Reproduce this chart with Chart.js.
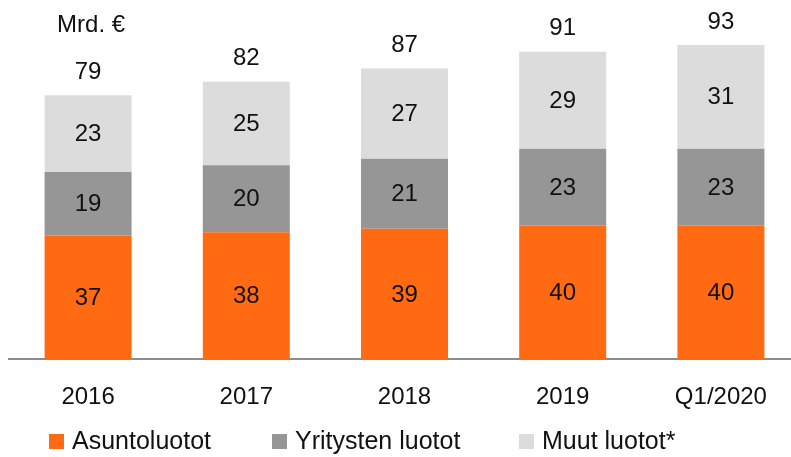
<!DOCTYPE html>
<html><head><meta charset="utf-8">
<script src="https://cdn.jsdelivr.net/npm/chart.js@4/dist/chart.umd.min.js"></script>
<style>html,body{margin:0;padding:0;overflow:hidden;background:#fff;width:791px;height:457px}#wrap{width:800px;height:457px}</style>
</head><body><div id="wrap"><canvas id="c" width="800" height="457"></canvas></div>
<script>
const categories = ["2016","2017","2018","2019","Q1/2020"];
const asuntoluotot = [37,38,39,40,40];
const yritystenLuotot = [19,20,21,23,23];
const muutLuotot = [23,25,27,29,31];
const totals = [79,82,87,91,93];
const seriesNames = ["Asuntoluotot","Yritysten luotot","Muut luotot*"];
const unitLabel = "Mrd. €";
const FONT = "'Liberation Sans', Arial, sans-serif";

const labelsPlugin = {
  id: 'labelsPlugin',
  afterDatasetsDraw(chart) {
    const ctx = chart.ctx;
    ctx.save();
    ctx.font = "24px " + FONT;
    ctx.fillStyle = "#111";
    ctx.textAlign = "center";
    ctx.textBaseline = "middle";
    chart.data.datasets.forEach((ds, di) => {
      const meta = chart.getDatasetMeta(di);
      meta.data.forEach((bar, i) => {
        const y = (bar.y + bar.base) / 2;
        ctx.fillText(String(ds.data[i]), bar.x, y + 1);
      });
    });
    const top = chart.getDatasetMeta(chart.data.datasets.length - 1);
    top.data.forEach((bar, i) => {
      ctx.fillText(String(totals[i]), bar.x, bar.y - 23);
    });
    const first = top.data[0];
    ctx.fillText(unitLabel, first.x + 3, first.y - 70);
    // legend
    const xs = [49, 272, 519];
    ctx.font = "25px " + FONT;
    chart.data.datasets.forEach((ds, di) => {
      ctx.fillStyle = ds.backgroundColor;
      ctx.fillRect(xs[di], 434, 15, 15);
      ctx.fillStyle = "#111";
      ctx.textAlign = "left";
      ctx.fillText(ds.label, xs[di] + 23, 442);
    });
    ctx.restore();
  }
};

new Chart(document.getElementById('c'), {
  type: 'bar',
  data: {
    labels: categories,
    datasets: [
      {label: seriesNames[0], data: asuntoluotot, backgroundColor: '#FF6A13'},
      {label: seriesNames[1], data: yritystenLuotot, backgroundColor: '#969696'},
      {label: seriesNames[2], data: muutLuotot, backgroundColor: '#DCDCDC'}
    ]
  },
  options: {
    responsive: false,
    animation: false,
    devicePixelRatio: 1,
    layout: {padding: {left: 9, right: 0, top: 25, bottom: 21}},
    datasets: {bar: {categoryPercentage: 1, barPercentage: 0.55}},
    plugins: {legend: {display: false}, tooltip: {enabled: false}},
    scales: {
      x: {
        stacked: true,
        grid: {display: false, drawTicks: false},
        border: {display: true, color: '#8c8c8c', width: 2},
        ticks: {color: '#111', font: {family: FONT, size: 24}, padding: 24}
      },
      y: {
        stacked: true, display: false, min: 0, max: 100
      }
    }
  },
  plugins: [labelsPlugin]
});
</script></body></html>
